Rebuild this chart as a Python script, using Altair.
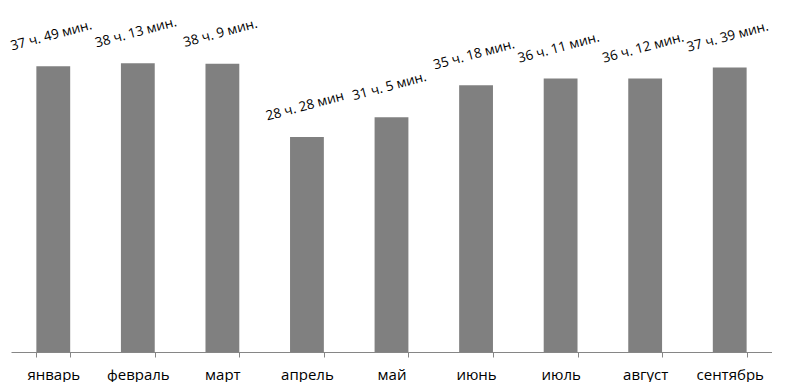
import altair as alt
import pandas as pd

months = ["январь", "февраль", "март", "апрель", "май", "июнь", "июль", "август", "сентябрь"]
hours = [37, 38, 38, 28, 31, 35, 36, 36, 37]
minutes = [49, 13, 9, 28, 5, 18, 11, 12, 39]
labels = ["37 ч. 49 мин.", "38 ч. 13 мин.", "38 ч. 9 мин.", "28 ч. 28 мин",
          "31 ч. 5 мин.", "35 ч. 18 мин.", "36 ч. 11 мин.", "36 ч. 12 мин.", "37 ч. 39 мин."]

df = pd.DataFrame({
    "month": months,
    "value": [h + m / 60 for h, m in zip(hours, minutes)],
    "label": labels,
})

x = alt.X("month:N", sort=months, title=None,
          scale=alt.Scale(paddingInner=0.6, paddingOuter=0.3),
          axis=alt.Axis(labelAngle=0, tickBand="extent", tickSize=5,
                        domainColor="#868686", tickColor="#868686",
                        labelColor="#000000", labelFontSize=15, labelFont="Open Sans",
                        labelPadding=10, grid=False))
y = alt.Y("value:Q", scale=alt.Scale(domain=[0, 45], nice=False), axis=None)

bars = alt.Chart(df).mark_bar(color="#808080").encode(x=x, y=y)
text = alt.Chart(df).mark_text(angle=345, align="center", baseline="middle",
                               dx=6, dy=-30, fontSize=13.5, font="Open Sans",
                               color="#000000").encode(x=x, y=y, text="label:N")

chart = (bars + text).properties(
    width=761, height=340,
    autosize=alt.AutoSizeParams(type="none"),
    padding={"left": 3, "top": 4, "right": 0, "bottom": 30},
).configure_view(stroke=None)

chart.save("out.html", embed_options={"renderer": "svg", "actions": False})
